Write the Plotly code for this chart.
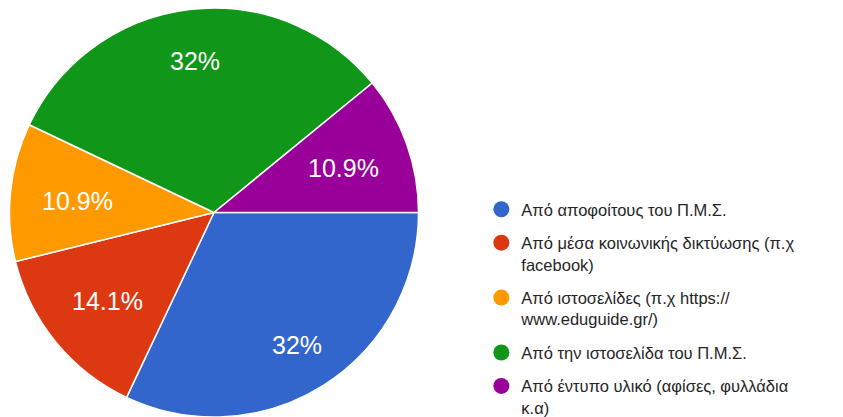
import math
import plotly.graph_objects as go

labels = [
    "Από αποφοίτους του Π.Μ.Σ.",
    "Από μέσα κοινωνικής δικτύωσης (π.χ<br>facebook)",
    "Από ιστοσελίδες (π.χ https://<br>www.eduguide.gr/)",
    "Από την ιστοσελίδα του Π.Μ.Σ.",
    "Από έντυπο υλικό (αφίσες, φυλλάδια<br>κ.α)",
]
values = [32, 14.1, 10.9, 32, 10.9]
colors = ["#3366cc", "#dc3912", "#ff9900", "#109618", "#990099"]

W, H = 843, 417
CX, CY, R = 206, 205, 205  # pie centre / radius in px (figure coords)
START = 90  # degrees clockwise from 12 o'clock

fig = go.Figure()
fig.add_trace(go.Pie(
    labels=labels,
    values=values,
    sort=False,
    direction="clockwise",
    rotation=START,
    marker=dict(colors=colors, line=dict(color="white", width=1.5)),
    textinfo="none",
    showlegend=False,
    hoverinfo="label+percent",
    domain=dict(x=[(CX - R) / W, (CX + R) / W], y=[1 - (CY + R) / H, 1 - (CY - R) / H]),
))

# slice labels placed along each slice's mid-angle
total = sum(values)
cum = 0.0
for v in values:
    mid = START + (cum + v / 2) / total * 360
    cum += v
    rho = 0.755 if v / total >= 0.25 else 0.67
    th = math.radians(mid)
    px = CX + rho * R * math.sin(th)
    py = CY - rho * R * math.cos(th) + 2
    fig.add_annotation(
        x=px / W, y=1 - py / H, xref="paper", yref="paper",
        xanchor="center", yanchor="middle",
        text=f"{v:g}%", showarrow=False,
        font=dict(family="Liberation Sans, Arial", size=25, color="white"),
    )

for i, (lab, col) in enumerate(zip(labels, colors)):
    fig.add_trace(go.Scatter(
        x=[None], y=[None], mode="markers", name=lab,
        marker=dict(color=col, size=18, symbol="circle"),
        legendgroup=f"g{i}", showlegend=True,
    ))

fig.update_layout(
    width=W, height=H,
    margin=dict(l=0, r=0, t=0, b=0),
    paper_bgcolor="white", plot_bgcolor="white",
    xaxis=dict(visible=False), yaxis=dict(visible=False),
    legend=dict(
        x=0.5615, y=0.558, xanchor="left", yanchor="top",
        font=dict(family="Liberation Sans, Arial", size=16.5, color="#262626"),
        valign="top", tracegroupgap=9, itemsizing="trace",
        bgcolor="rgba(0,0,0,0)",
    ),
)

fig.write_html("out.html")
